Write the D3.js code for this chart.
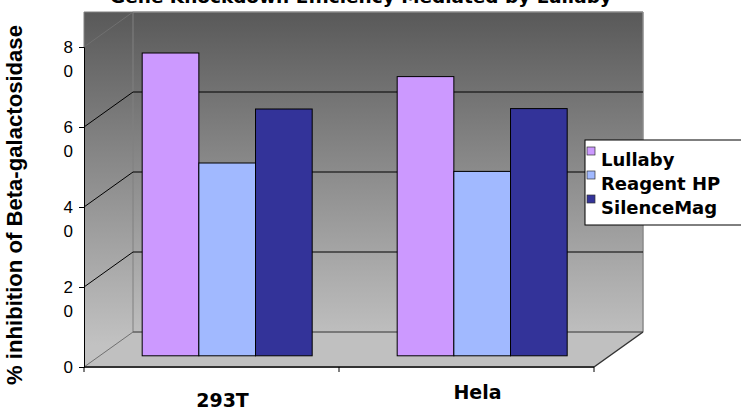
<!DOCTYPE html>
<html>
<head>
<meta charset="utf-8">
<script src="https://cdn.jsdelivr.net/npm/d3@7"></script>
<style>
  body { margin: 0; background: #fff; }
  svg { display: block; }
</style>
</head>
<body>
<div id="chart"></div>
<script>
// chart data
var categories = ["293T", "Hela"];
var seriesNames = ["Lullaby", "Reagent HP", "SilenceMag"];
var lullaby = [75.7, 69.8];
var reagentHP = [48.2, 46.1];
var silenceMag = [61.7, 61.8];
var yTicks = [0, 20, 40, 60, 80];
var seriesColors = ["#cc99ff", "#a1b9ff", "#333399"];

var values = [lullaby, reagentHP, silenceMag];

var svgwidth = 741;
var svgheight = 409;
var svg = d3.select("#chart").append("svg").attr("width", svgwidth).attr("height", svgheight);

// front plane of the 3d box
var x0 = 84, x1 = 594;
var yScale = d3.scaleLinear().domain([0, 80]).range([367, 47]);
// depth of the box (back wall offset)
var dx = 49, dy = -35;
// bars sit a bit behind the front edge
var barDepth = 0.32;

var xScale = d3.scaleBand().domain(categories).range([x0, x1]);
var xInner = d3.scaleBand().domain(seriesNames).range([0, xScale.bandwidth()]).paddingOuter(0.75);

var defs = svg.append("defs");
var grad = defs.append("linearGradient").attr("id", "wallGrad")
  .attr("gradientUnits", "userSpaceOnUse")
  .attr("x1", 0).attr("y1", 12).attr("x2", 0).attr("y2", 345);
grad.append("stop").attr("offset", 0).attr("stop-color", "#595959");
grad.append("stop").attr("offset", 1).attr("stop-color", "#c2c2c2");

var top80 = yScale(80) + dy;
var back0 = yScale(0) + dy;

// side wall
svg.append("rect")
  .attr("x", x0).attr("y", top80)
  .attr("width", dx).attr("height", yScale(0) - top80)
  .attr("fill", "url(#wallGrad)");

// back wall
svg.append("rect")
  .attr("x", x0 + dx).attr("y", top80)
  .attr("width", x1 - x0).attr("height", back0 - top80)
  .attr("fill", "url(#wallGrad)");

// floor
svg.append("polygon")
  .attr("points", [[x0, yScale(0)], [x0 + dx, back0], [x1 + dx, back0], [x1, yScale(0)]].join(" "))
  .attr("fill", "#c0c0c0");

// wall edges
svg.append("line").attr("x1", x0 + dx).attr("x2", x1 + dx).attr("y1", top80).attr("y2", top80)
  .attr("stroke", "#8a8a8a").attr("stroke-width", 1.5);
svg.append("line").attr("x1", x1 + dx).attr("x2", x1 + dx).attr("y1", top80).attr("y2", back0)
  .attr("stroke", "#8a8a8a").attr("stroke-width", 1.5);
svg.append("line").attr("x1", x0 + dx).attr("x2", x0 + dx).attr("y1", top80).attr("y2", back0)
  .attr("stroke", "#808080").attr("stroke-width", 1);
svg.append("line").attr("x1", x0).attr("x2", x0 + dx).attr("y1", top80).attr("y2", top80)
  .attr("stroke", "#808080").attr("stroke-width", 1);
svg.append("line").attr("x1", x0).attr("x2", x0).attr("y1", top80).attr("y2", yScale(80))
  .attr("stroke", "#808080").attr("stroke-width", 1);

// gridlines on back wall + side wall
yTicks.forEach(function (t) {
  var edge = (t == 0 || t == 80);
  svg.append("line")
    .attr("x1", x0).attr("y1", yScale(t))
    .attr("x2", x0 + dx).attr("y2", yScale(t) + dy)
    .attr("stroke", edge ? "#707070" : "#000").attr("stroke-width", 1);
  if (t > 0 && t < 80) {
    svg.append("line")
      .attr("x1", x0 + dx).attr("y1", yScale(t) + dy)
      .attr("x2", x1 + dx).attr("y2", yScale(t) + dy)
      .attr("stroke", "#000").attr("stroke-width", 1.2);
  }
});
// back edge of floor
svg.append("line").attr("x1", x0 + dx).attr("x2", x1 + dx).attr("y1", back0).attr("y2", back0)
  .attr("stroke", "#606060").attr("stroke-width", 1.5);
// floor right edge
svg.append("line").attr("x1", x1).attr("y1", yScale(0)).attr("x2", x1 + dx).attr("y2", back0)
  .attr("stroke", "#333").attr("stroke-width", 1.5);

// bars
var bx = dx * barDepth, by = dy * barDepth;
var groups = svg.selectAll(".gbars").data(seriesNames).enter().append("g").attr("class", "gbars");
groups.selectAll("rect")
  .data(function (s, i) {
    return categories.map(function (c, j) { return { series: s, cat: c, value: values[i][j], color: seriesColors[i] }; });
  })
  .enter().append("rect")
  .attr("x", function (d) { return xScale(d.cat) + xInner(d.series) + bx; })
  .attr("y", function (d) { return yScale(d.value) + by; })
  .attr("width", xInner.bandwidth())
  .attr("height", function (d) { return yScale(0) - yScale(d.value); })
  .attr("fill", function (d) { return d.color; })
  .attr("stroke", "#000").attr("stroke-width", 1);

// x axis
var gx = svg.append("g").attr("transform", "translate(0," + yScale(0) + ")");
gx.append("line").attr("x1", x0).attr("x2", x1).attr("stroke", "#333").attr("stroke-width", 2);
gx.selectAll(".xtick").data([x0, xScale("Hela"), x1]).enter().append("line")
  .attr("x1", function (d) { return d; }).attr("x2", function (d) { return d; })
  .attr("y1", 0).attr("y2", 5).attr("stroke", "#000");

// category labels, staggered like excel does
var labelY = [407, 399];
svg.selectAll(".catlabel").data(categories).enter().append("text")
  .attr("class", "catlabel")
  .attr("x", function (d) { return xScale(d) + xScale.bandwidth() / 2 + 11; })
  .attr("y", function (d, i) { return labelY[i]; })
  .attr("text-anchor", "middle")
  .style("font-family", "DejaVu Sans").style("font-weight", "bold").style("font-size", "19px")
  .text(function (d) { return d; });

// y axis
var yAxis = d3.axisLeft(yScale).tickValues(yTicks).tickSize(5).tickFormat("");
var gy = svg.append("g").attr("transform", "translate(" + x0 + ",0)").call(yAxis);
gy.select(".domain").attr("stroke", "#000");
gy.selectAll(".tick line").attr("stroke", "#000");
// tick labels wrap to two lines in the original
yTicks.forEach(function (t) {
  var digits = String(t).split("");
  var txt = svg.append("text")
    .attr("x", x0 - 10).attr("y", yScale(t) + 6)
    .attr("text-anchor", "end")
    .style("font-family", "Liberation Sans").style("font-size", "17px").style("fill", "#000");
  digits.forEach(function (c, k) {
    txt.append("tspan").attr("x", x0 - 11).attr("dy", k == 0 ? 0 : 24).text(c);
  });
});

// y title, sized to fit the height it spans
var ytitle = svg.append("text")
  .attr("transform", "translate(22,205) rotate(-90)")
  .attr("text-anchor", "middle")
  .style("font-family", "Liberation Sans").style("font-weight", "bold").style("font-size", "18px")
  .text("% inhibition of Beta-galactosidase");
var ylen = ytitle.node().getComputedTextLength();
ytitle.style("font-size", (18 * 360 / ylen) + "px");

// chart title (cut off by the top edge in the original)
var title = svg.append("text")
  .attr("x", 361).attr("y", 3)
  .attr("text-anchor", "middle")
  .style("font-family", "DejaVu Sans").style("font-weight", "bold").style("font-size", "18px")
  .text("Gene Knockdown Efficiency Mediated by Lullaby");
var tlen = title.node().getComputedTextLength();
title.style("font-size", (18 * 502 / tlen) + "px");

// legend
var legend = svg.append("g").attr("transform", "translate(585,140)");
legend.append("rect").attr("width", 160).attr("height", 85)
  .attr("fill", "#fff").attr("stroke", "#000").attr("stroke-width", 1);
seriesNames.forEach(function (s, i) {
  legend.append("rect")
    .attr("x", 2).attr("y", 7 + i * 24).attr("width", 8).attr("height", 8)
    .attr("fill", seriesColors[i]).attr("stroke", "#333").attr("stroke-width", 0.7);
  legend.append("text")
    .attr("x", 16).attr("y", 26 + i * 24)
    .style("font-family", "DejaVu Sans").style("font-weight", "bold").style("font-size", "18px")
    .text(s);
});
</script>
</body>
</html>
